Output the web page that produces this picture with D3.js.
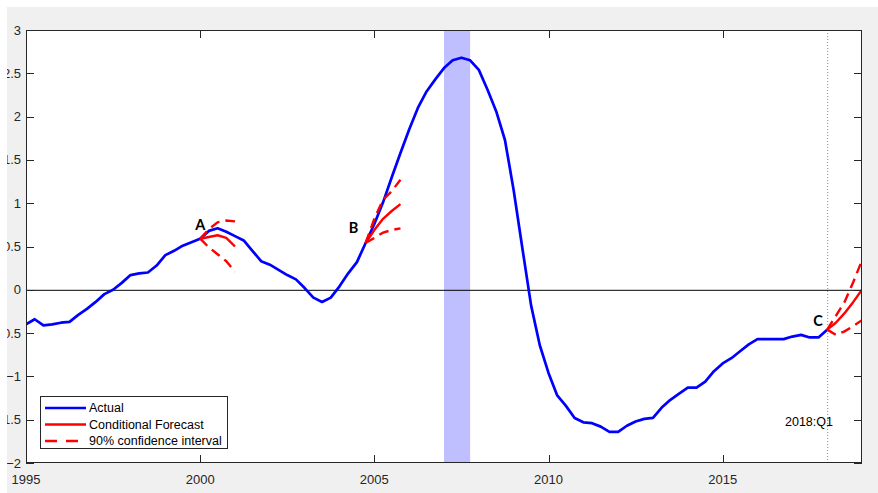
<!DOCTYPE html>
<html><head><meta charset="utf-8">
<script src="https://cdn.jsdelivr.net/npm/d3@7"></script>
<style>body{margin:0;background:#fff}svg{display:block}</style>
</head><body>
<svg id="c" width="878" height="493"></svg>
<script>
// ---- data ----
const startYear = 1995; // first quarter of the actual series (quarterly)
const actual = [-0.40,-0.34,-0.41,-0.40,-0.38,-0.37,-0.29,-0.22,-0.14,-0.05,
  0.00,0.08,0.17,0.19,0.20,0.28,0.40,0.45,0.51,0.55,
  0.59,0.68,0.71,0.67,0.62,0.57,0.45,0.33,0.29,0.23,
  0.17,0.12,0.02,-0.09,-0.14,-0.09,0.04,0.19,0.32,0.54,
  0.76,1.01,1.30,1.58,1.85,2.10,2.29,2.43,2.56,2.65,
  2.68,2.65,2.54,2.31,2.06,1.73,1.15,0.48,-0.18,-0.64,
  -0.96,-1.22,-1.34,-1.48,-1.53,-1.54,-1.58,-1.64,-1.64,-1.57,
  -1.52,-1.49,-1.48,-1.36,-1.27,-1.20,-1.13,-1.13,-1.06,-0.94,
  -0.85,-0.79,-0.71,-0.63,-0.57,-0.57,-0.57,-0.57,-0.54,-0.52,
  -0.55,-0.55,-0.46];
const fcStart = [2000.0, 2004.75, 2018.0];
const fcLabels = ["A","B","C"];
const fcMean  = [[0.59,0.61,0.63,0.60,0.50],[0.54,0.69,0.82,0.91,0.99],[-0.46,-0.38,-0.27,-0.14,0.00]];
const fcUpper = [[0.59,0.70,0.78,0.80,0.79],[0.54,0.82,1.04,1.14,1.27],[-0.46,-0.30,-0.14,0.09,0.34]];
const fcLower = [[0.59,0.49,0.41,0.33,0.21],[0.54,0.60,0.66,0.69,0.71],[-0.46,-0.52,-0.48,-0.42,-0.35]];
const recession = [2007.0, 2007.75];
const markerDate = 2018.0;
const markerText = "2018:Q1";
const xTicks = [1995, 2000, 2005, 2010, 2015];
const yTicks = [-2,-1.5,-1,-0.5,0,0.5,1,1.5,2,2.5,3];
const legendItems = ["Actual","Conditional Forecast","90% confidence interval"];

// ---- layout ----
const svg = d3.select("#c");
const L = 26, R = 862, T = 30, B = 463;
const x = d3.scaleLinear().domain([1995, 2019]).range([L, R]);
const y = d3.scaleLinear().domain([-2, 3]).range([B, T]);

svg.append("defs").append("clipPath").attr("id","fig")
  .append("rect").attr("x",7).attr("y",7).attr("width",871).attr("height",486);
svg.append("defs").append("clipPath").attr("id","plot")
  .append("rect").attr("x",L).attr("y",T).attr("width",R-L).attr("height",B-T);

const fig = svg.append("g").attr("clip-path","url(#fig)");
fig.append("rect").attr("x",7).attr("y",7).attr("width",871).attr("height",486).attr("fill","#f0f0f0");
fig.append("rect").attr("x",L).attr("y",T).attr("width",R-L).attr("height",B-T).attr("fill","#fff");

const plot = fig.append("g").attr("clip-path","url(#plot)");
plot.append("rect").attr("x",x(recession[0])).attr("y",T)
  .attr("width",x(recession[1])-x(recession[0])).attr("height",B-T).attr("fill","#bfbfff");
plot.append("line").attr("x1",L).attr("x2",R).attr("y1",y(0)+0.5).attr("y2",y(0)+0.5)
  .attr("stroke","#000").attr("stroke-width",1);
plot.append("line").attr("x1",x(markerDate)+0.5).attr("x2",x(markerDate)+0.5).attr("y1",T).attr("y2",B)
  .attr("stroke","#8a8a8a").attr("stroke-width",1).attr("stroke-dasharray","1,2");

const line = d3.line().x(d=>x(d[0])).y(d=>y(d[1]));
const act = actual.map((v,i)=>[startYear + i/4, v]);
plot.append("path").attr("d", line(act)).attr("fill","none")
  .attr("stroke","#0000ff").attr("stroke-width",2.7).attr("stroke-linejoin","round");

fcStart.forEach((s,k)=>{
  const mk = arr => arr.map((v,i)=>[s + i/4, v]);
  [fcUpper[k], fcLower[k]].forEach(a=>{
    plot.append("path").attr("d", line(mk(a))).attr("fill","none")
      .attr("stroke","#ff0000").attr("stroke-width",2.4).attr("stroke-dasharray","10,6");
  });
  plot.append("path").attr("d", line(mk(fcMean[k]))).attr("fill","none")
    .attr("stroke","#ff0000").attr("stroke-width",2.4).attr("stroke-linejoin","round");
});

// labels A/B/C
const labPos = [[0,-9],[-12,-10],[-9,-3.5]];
fcStart.forEach((s,k)=>{
  fig.append("text").attr("x", x(s)+labPos[k][0]).attr("y", y(fcMean[k][0])+labPos[k][1])
    .attr("text-anchor","middle").attr("font-family","Lato, 'Open Sans', sans-serif")
    .attr("font-weight","bold").attr("font-size",14.5).attr("fill","#000").text(fcLabels[k]);
});

fig.append("text").attr("x", 785).attr("y", 426).attr("font-family","'Liberation Sans', Arial, sans-serif")
  .attr("font-size",12.5).attr("fill","#000").text(markerText);

// axes box & ticks
const ax = fig.append("g").attr("stroke","#262626").attr("stroke-width",1).attr("fill","none");
ax.append("rect").attr("x",L+0.5).attr("y",T+0.5).attr("width",R-L-1).attr("height",B-T-1);
const tl = 8;
xTicks.forEach(t=>{
  const px = Math.round(x(t))+0.5;
  ax.append("line").attr("x1",px).attr("x2",px).attr("y1",B).attr("y2",B-tl);
  ax.append("line").attr("x1",px).attr("x2",px).attr("y1",T).attr("y2",T+tl);
});
yTicks.forEach(t=>{
  const py = Math.round(y(t))+0.5;
  ax.append("line").attr("x1",L).attr("x2",L+tl).attr("y1",py).attr("y2",py);
  ax.append("line").attr("x1",R).attr("x2",R-tl).attr("y1",py).attr("y2",py);
});
const tf = "'Liberation Sans', Arial, sans-serif";
xTicks.forEach(t=>{
  fig.append("text").attr("x",x(t)).attr("y",484).attr("text-anchor","middle")
    .attr("font-family",tf).attr("font-size",13).attr("fill","#262626").text(t);
});
yTicks.forEach(t=>{
  fig.append("text").attr("x",21).attr("y",y(t)+4.5).attr("text-anchor","end")
    .attr("font-family",tf).attr("font-size",13).attr("fill","#262626").text(d3.format("")(t));
});

// legend
const lg = fig.append("g");
lg.append("rect").attr("x",40.5).attr("y",396.5).attr("width",187).attr("height",52)
  .attr("fill","#fff").attr("stroke","#262626").attr("stroke-width",1);
const lstyles = [["#0000ff",null],["#ff0000",null],["#ff0000","12,9"]];
legendItems.forEach((txt,i)=>{
  const ly = 408 + i*16.5;
  const ln = lg.append("line").attr("x1",45).attr("x2",86).attr("y1",ly).attr("y2",ly)
    .attr("stroke",lstyles[i][0]).attr("stroke-width",2.4);
  if (lstyles[i][1]) ln.attr("stroke-dasharray",lstyles[i][1]);
  lg.append("text").attr("x",89).attr("y",ly+4).attr("font-family",tf).attr("font-size",12.5)
    .attr("fill","#000").text(txt);
});
</script>
</body></html>
